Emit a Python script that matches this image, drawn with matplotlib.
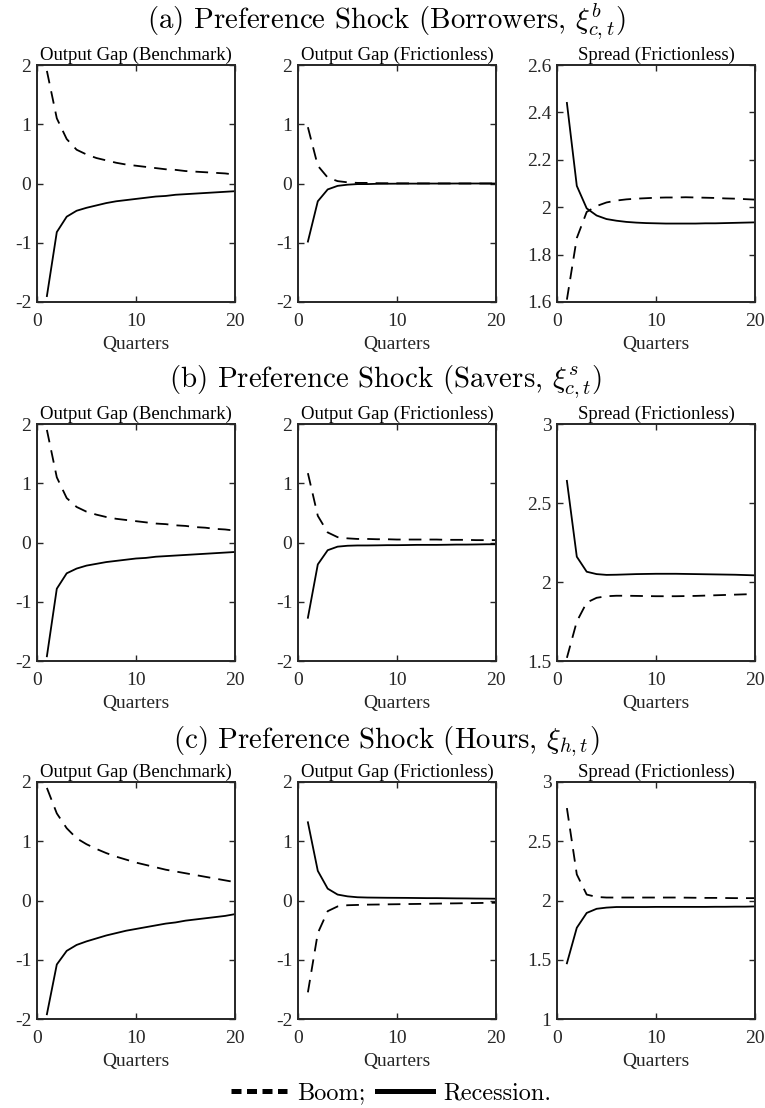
import numpy as np
import matplotlib
matplotlib.use("Agg")
import matplotlib.pyplot as plt
from matplotlib.lines import Line2D
from matplotlib.ticker import FuncFormatter

plt.rcParams["mathtext.fontset"] = "cm"
plt.rcParams["axes.unicode_minus"] = False

quarters = np.arange(1, 21)

# ---------- Row (a): Borrowers preference shock ----------
a_bench_boom = [1.90, 1.10, 0.75, 0.57, 0.49, 0.43, 0.39, 0.35, 0.32, 0.30,
                0.28, 0.26, 0.24, 0.23, 0.21, 0.20, 0.19, 0.18, 0.17, 0.15]
a_bench_rec = [-1.90, -0.82, -0.56, -0.46, -0.41, -0.37, -0.33, -0.30, -0.28, -0.26,
               -0.24, -0.22, -0.21, -0.19, -0.18, -0.17, -0.16, -0.15, -0.14, -0.13]
a_fric_boom = [0.95, 0.30, 0.10, 0.04, 0.02, 0.01, 0.01, 0.005, 0.004, 0.003,
               0.002, 0.002, 0.001, 0.001, 0.001, 0.0, 0.0, 0.0, 0.0, 0.0]
a_fric_rec = [-0.98, -0.30, -0.10, -0.04, -0.02, -0.01, -0.01, -0.005, -0.004, -0.003,
              -0.002, -0.002, -0.001, -0.001, -0.001, 0.0, 0.0, 0.0, 0.0, 0.0]
a_spread_boom = [1.61, 1.87, 1.98, 2.005, 2.020, 2.028, 2.033, 2.036, 2.038, 2.040,
                 2.041, 2.041, 2.042, 2.041, 2.040, 2.039, 2.037, 2.036, 2.034, 2.032]
a_spread_rec = [2.44, 2.09, 1.995, 1.965, 1.950, 1.943, 1.938, 1.935, 1.933, 1.932,
                1.931, 1.931, 1.931, 1.931, 1.932, 1.932, 1.933, 1.934, 1.935, 1.936]

# ---------- Row (b): Savers preference shock ----------
b_bench_boom = [1.90, 1.10, 0.75, 0.60, 0.52, 0.47, 0.43, 0.40, 0.38, 0.36,
                0.34, 0.32, 0.31, 0.29, 0.28, 0.26, 0.25, 0.23, 0.22, 0.20]
b_bench_rec = [-1.92, -0.78, -0.52, -0.44, -0.39, -0.36, -0.33, -0.31, -0.29, -0.27,
               -0.26, -0.24, -0.23, -0.22, -0.21, -0.20, -0.19, -0.18, -0.17, -0.16]
b_fric_boom = [1.17, 0.45, 0.17, 0.09, 0.07, 0.06, 0.06, 0.055, 0.055, 0.05,
               0.05, 0.05, 0.05, 0.05, 0.045, 0.045, 0.045, 0.04, 0.04, 0.04]
b_fric_rec = [-1.27, -0.37, -0.13, -0.07, -0.055, -0.05, -0.05, -0.048, -0.045, -0.045,
              -0.043, -0.04, -0.04, -0.04, -0.038, -0.035, -0.035, -0.033, -0.03, -0.03]
b_spread_boom = [1.52, 1.75, 1.87, 1.90, 1.91, 1.913, 1.913, 1.912, 1.911, 1.910,
                 1.910, 1.910, 1.911, 1.912, 1.914, 1.916, 1.918, 1.920, 1.922, 1.924]
b_spread_rec = [2.64, 2.16, 2.065, 2.050, 2.045, 2.046, 2.048, 2.050, 2.051, 2.052,
                2.052, 2.052, 2.051, 2.050, 2.049, 2.048, 2.047, 2.046, 2.044, 2.042]

# ---------- Row (c): Hours preference shock ----------
c_bench_boom = [1.90, 1.47, 1.22, 1.05, 0.95, 0.87, 0.80, 0.74, 0.69, 0.64,
                0.60, 0.56, 0.52, 0.49, 0.46, 0.43, 0.40, 0.37, 0.34, 0.31]
c_bench_rec = [-1.92, -1.08, -0.85, -0.75, -0.69, -0.64, -0.59, -0.55, -0.51, -0.48,
               -0.45, -0.42, -0.39, -0.37, -0.34, -0.32, -0.30, -0.28, -0.26, -0.23]
c_fric_boom = [-1.55, -0.55, -0.18, -0.10, -0.08, -0.075, -0.07, -0.068, -0.065, -0.063,
               -0.06, -0.058, -0.055, -0.053, -0.05, -0.048, -0.045, -0.043, -0.04, -0.038]
c_fric_rec = [1.32, 0.50, 0.20, 0.10, 0.07, 0.055, 0.05, 0.048, 0.046, 0.045,
              0.044, 0.042, 0.04, 0.04, 0.038, 0.036, 0.035, 0.033, 0.032, 0.03]
c_spread_boom = [2.78, 2.22, 2.05, 2.03, 2.025, 2.025, 2.025, 2.025, 2.025, 2.025,
                 2.025, 2.025, 2.024, 2.023, 2.022, 2.022, 2.021, 2.020, 2.020, 2.020]
c_spread_rec = [1.47, 1.77, 1.895, 1.93, 1.94, 1.945, 1.945, 1.945, 1.945, 1.946,
                1.946, 1.946, 1.946, 1.946, 1.946, 1.947, 1.947, 1.948, 1.948, 1.950]

row_titles = [r"(a) Preference Shock (Borrowers, $\xi^b_{c,t}$)",
              r"(b) Preference Shock (Savers, $\xi^s_{c,t}$)",
              r"(c) Preference Shock (Hours, $\xi_{h,t}$)"]
panel_titles = ["Output Gap (Benchmark)", "Output Gap (Frictionless)", "Spread (Frictionless)"]
x_ticks = [0, 10, 20]
gap_ticks = [-2, -1, 0, 1, 2]
spread_ticks = [[1.6, 1.8, 2.0, 2.2, 2.4, 2.6],
                [1.5, 2.0, 2.5, 3.0],
                [1.0, 1.5, 2.0, 2.5, 3.0]]
legend_labels = ["Boom;", "Recession."]

rows = [
    [(a_bench_boom, a_bench_rec), (a_fric_boom, a_fric_rec), (a_spread_boom, a_spread_rec)],
    [(b_bench_boom, b_bench_rec), (b_fric_boom, b_fric_rec), (b_spread_boom, b_spread_rec)],
    [(c_bench_boom, c_bench_rec), (c_fric_boom, c_fric_rec), (c_spread_boom, c_spread_rec)],
]

W, H = 765, 1108
fig = plt.figure(figsize=(W / 100, H / 100), dpi=100)

col_left = [37, 298, 557]
row_top = [65, 424, 782]
ax_w, ax_h = 198, 237
title_y = [22, 382, 742]

serif = "Liberation Serif"
txt_col = "#262626"

for r in range(3):
    fig.text(386 / W, 1 - title_y[r] / H, row_titles[r], ha="center", va="center",
             fontsize=20.8, family="cmr10", color="black")
    for c in range(3):
        ax = fig.add_axes([col_left[c] / W, 1 - (row_top[r] + ax_h) / H, ax_w / W, ax_h / H])
        boom, rec = rows[r][c]
        ax.plot(quarters, boom, color="black", lw=1.3, linestyle=(0, (7, 4.5)))
        ax.plot(quarters, rec, color="black", lw=1.3, linestyle="-")
        ax.set_xlim(0, 20)
        ax.set_xticks(x_ticks)
        if c < 2:
            ax.set_ylim(-2, 2)
            ax.set_yticks(gap_ticks)
        else:
            ticks = spread_ticks[r]
            ax.set_ylim(ticks[0], ticks[-1])
            ax.set_yticks(ticks)
        ax.yaxis.set_major_formatter(FuncFormatter(lambda v, p: f"{v:g}"))
        ax.tick_params(direction="in", top=True, right=True, length=4, width=1.0,
                       labelsize=14, labelcolor=txt_col, color=txt_col)
        ax.tick_params(axis="x", pad=8)
        ax.tick_params(axis="y", pad=4)
        for lab in ax.get_xticklabels() + ax.get_yticklabels():
            lab.set_family(serif)
        for sp in ax.spines.values():
            sp.set_linewidth(1.4)
            sp.set_color(txt_col)
        ax.set_title(panel_titles[c], fontsize=13.5, family=serif, color="black", pad=4)
        ax.set_xlabel("Quarters", fontsize=14, family=serif, color=txt_col, labelpad=4)

handles = [Line2D([], [], color="black", lw=3.6, linestyle=(0, (2.0, 1.1))),
           Line2D([], [], color="black", lw=3.6, linestyle="-")]
fig.legend(handles, legend_labels, loc="center", bbox_to_anchor=(391 / W, 1 - 1093 / H),
           ncol=2, frameon=False, prop={"family": "cmr10", "size": 17.5},
           handlelength=2.3, columnspacing=0.5, handletextpad=0.4)

fig.savefig("out.png", dpi=100)
